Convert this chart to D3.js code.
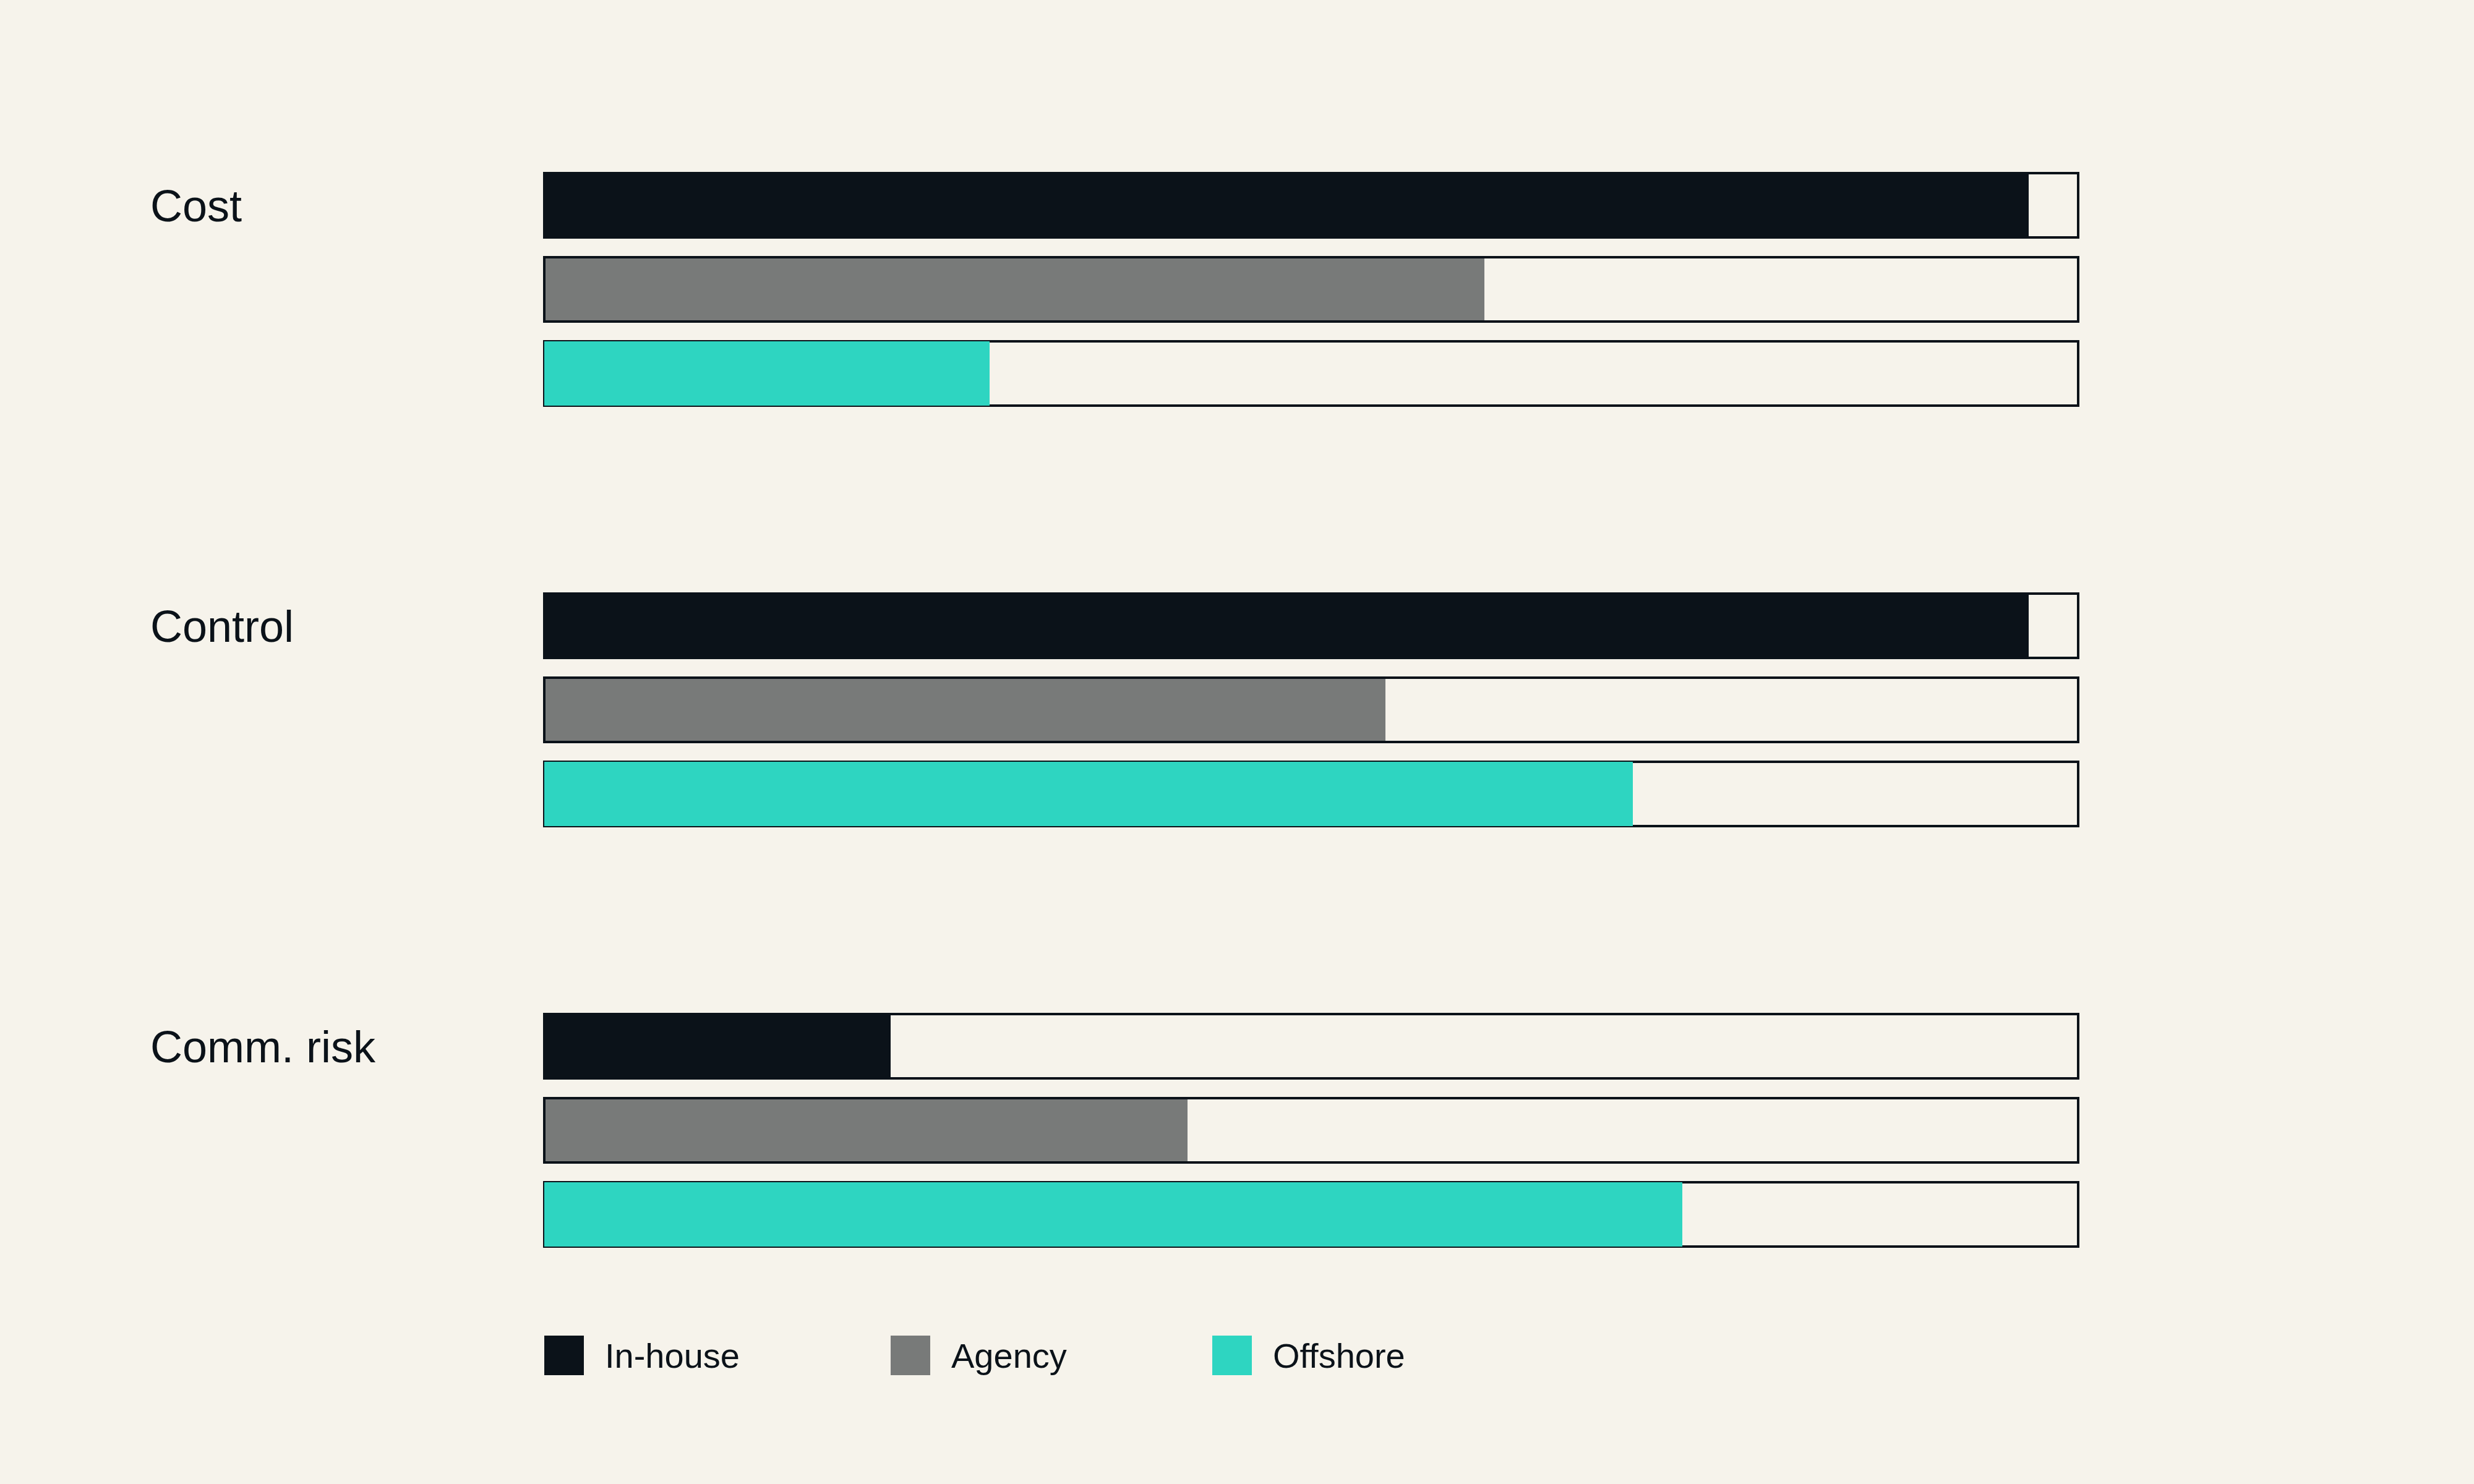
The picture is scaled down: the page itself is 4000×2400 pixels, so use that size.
<!DOCTYPE html>
<html>
<head>
<meta charset="utf-8">
<script src="https://cdn.jsdelivr.net/npm/d3@7"></script>
<style>
  html, body { margin: 0; padding: 0; background: #f6f3eb; }
  svg { display: block; }
</style>
</head>
<body>
<script>
// ---- data ----
const categories = ["Cost", "Control", "Comm. risk"];
const seriesNames = ["In-house", "Agency", "Offshore"];
const inHouse  = [30, 30, 7];
const agency   = [19, 17, 13];
const offshore = [9, 22, 23];
const scoreMax = 31;

// ---- styles ----
const colors = ["#0b1219", "#787a79", "#2ed5c1"];
const outlineOnTop = [false, true, false];
const bg = "#f6f3eb";
const ink = "#0b1219";

const W = 4000, H = 2400;
const svg = d3.select("body").append("svg").attr("width", W).attr("height", H);
svg.append("rect").attr("width", W).attr("height", H).attr("fill", bg);

const seriesValues = [inHouse, agency, offshore];

const x = d3.scaleLinear().domain([0, scoreMax]).range([880, 3360]);
const yGroup = d3.scaleBand().domain(categories).range([280, 2320]).paddingInner(0).paddingOuter(0);
const yBar = d3.scaleBand().domain(seriesNames).range([0, 376]).paddingInner(32 / 136).paddingOuter(0);

const barH = yBar.bandwidth();

const groups = svg.selectAll("g.group").data(categories).join("g")
  .attr("class", "group")
  .attr("transform", d => `translate(0,${yGroup(d)})`);

// category labels
groups.append("text")
  .attr("x", 243)
  .attr("y", yBar(seriesNames[0]) + barH / 2)
  .attr("dy", "0.36em")
  .attr("font-family", "'Liberation Sans', Arial, sans-serif")
  .attr("font-size", 72)
  .attr("fill", ink)
  .text(d => d);

groups.each(function(cat, ci) {
  const g = d3.select(this);
  seriesNames.forEach((s, si) => {
    const yy = yBar(s);
    const v = seriesValues[si][ci];
    // track
    g.append("rect")
      .attr("x", x(0)).attr("y", yy)
      .attr("width", x(scoreMax) - x(0)).attr("height", barH)
      .attr("fill", bg).attr("stroke", ink).attr("stroke-width", 4);
    // value bar
    g.append("rect")
      .attr("x", x(0)).attr("y", yy)
      .attr("width", x(v) - x(0)).attr("height", barH)
      .attr("fill", colors[si]);
    if (outlineOnTop[si]) {
      g.append("rect")
        .attr("x", x(0)).attr("y", yy)
        .attr("width", x(scoreMax) - x(0)).attr("height", barH)
        .attr("fill", "none").attr("stroke", ink).attr("stroke-width", 4);
    }
  });
});

// legend
const legend = svg.append("g").attr("transform", "translate(880,2160)");
let lx = 0;
seriesNames.forEach((s, i) => {
  const item = legend.append("g").attr("transform", `translate(${lx},0)`);
  item.append("rect").attr("width", 64).attr("height", 64).attr("fill", colors[i]);
  item.append("text")
    .attr("x", 98).attr("y", 52)
    .attr("font-family", "'Liberation Sans', Arial, sans-serif")
    .attr("font-size", 56)
    .attr("fill", ink)
    .text(s);
  lx += 64 + 34 + s.length * 20 + 302;
});
</script>
</body>
</html>
